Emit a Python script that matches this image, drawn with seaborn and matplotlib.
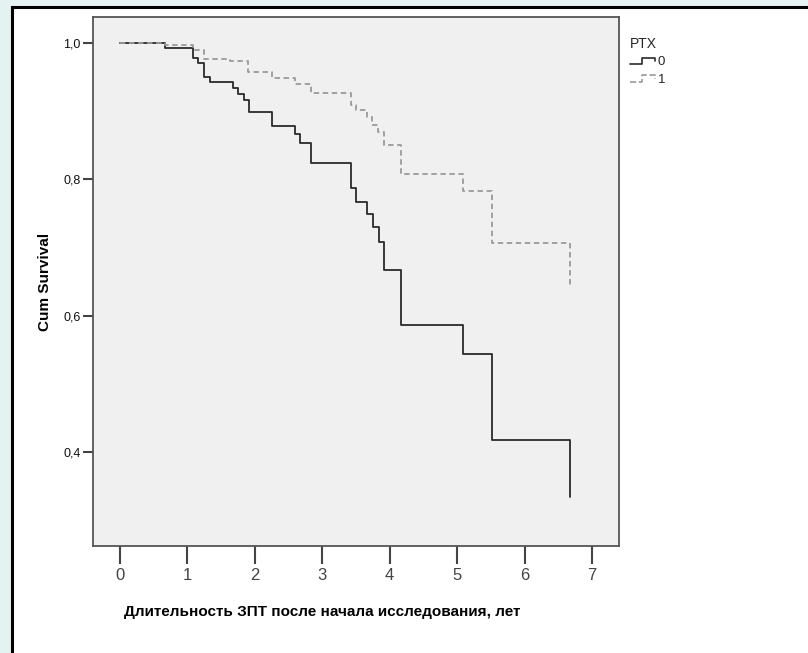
"""
Kaplan-Meier curves by PTX group, SPSS-style look.
"""
import numpy as np
import pandas as pd
import matplotlib
matplotlib.use("Agg")
import matplotlib.pyplot as plt
from matplotlib.lines import Line2D
from matplotlib.patches import Rectangle
from matplotlib.legend_handler import HandlerBase
import seaborn as sns

# survival steps (time in years, survival after the event)
time_0 = [0, 0.67, 1.08, 1.16, 1.25, 1.33, 1.67, 1.75, 1.84, 1.92, 2.26, 2.59, 2.67,
          2.83, 3.42, 3.50, 3.66, 3.75, 3.84, 3.92, 4.17, 5.09, 5.51, 6.68]
surv_0 = [1.0, 0.992, 0.978, 0.971, 0.950, 0.942, 0.934, 0.925, 0.916, 0.899, 0.878, 0.866,
          0.853, 0.824, 0.787, 0.767, 0.749, 0.730, 0.708, 0.667, 0.586, 0.544, 0.418, 0.334]
time_1 = [0, 0.67, 1.08, 1.25, 1.63, 1.90, 2.26, 2.59, 2.83, 3.42, 3.50, 3.66, 3.74,
          3.83, 3.91, 4.17, 5.09, 5.51, 6.68]
surv_1 = [1.0, 0.997, 0.990, 0.976, 0.973, 0.958, 0.949, 0.939, 0.926, 0.909, 0.901,
          0.891, 0.880, 0.870, 0.850, 0.807, 0.783, 0.706, 0.645]
groups = ["0", "1"]
x_ticks = [0, 1, 2, 3, 4, 5, 6, 7]
y_ticks = [0.4, 0.6, 0.8, 1.0]
y_tick_labels = ["0,4", "0,6", "0,8", "1,0"]

df = pd.concat([
    pd.DataFrame({"time": time_0, "surv": surv_0, "PTX": groups[0]}),
    pd.DataFrame({"time": time_1, "surv": surv_1, "PTX": groups[1]}),
])

sns.set_style("white")
plt.rcParams["font.family"] = ["Liberation Sans", "DejaVu Sans"]

W, H = 808, 653
fig = plt.figure(figsize=(W / 100, H / 100), dpi=100)
fig.patch.set_facecolor("#e4f2f2")
# white panel with a black frame, like the screenshot
frame = Rectangle((12 / W, -0.05), 1.0, 1 - 7 / H + 0.05, transform=fig.transFigure,
                  facecolor="white", edgecolor="black", lw=2.2, zorder=-10)
fig.patches.append(frame)

ax = fig.add_axes([93 / W, 1 - 546 / H, (619 - 93) / W, (546 - 17) / H])
ax.set_zorder(1)
ax.set_facecolor("#f0f0f0")

colors = {"0": "#2a2a2a", "1": "#9a9a9a"}
styles = {"0": "-", "1": (0, (3, 2))}
for g in groups:
    sub = df[df["PTX"] == g]
    sns.lineplot(data=sub, x="time", y="surv", ax=ax, color=colors[g], estimator=None,
                 drawstyle="steps-post", linestyle=styles[g], lw=1.3, legend=False)

ax.set_xlim(-0.4, 7.4)
ax.set_ylim(0.262, 1.038)
ax.set_xticks(x_ticks)
ax.set_xticklabels([str(v) for v in x_ticks], fontsize=12, color="#444444")
ax.set_yticks(y_ticks)
ax.set_yticklabels(y_tick_labels, fontsize=9, color="#111111")
ax.tick_params(axis="x", direction="out", length=13, width=1.5, color="#444444", pad=3, bottom=True)
ax.tick_params(axis="y", direction="out", length=7, width=1.5, color="#444444", pad=2, left=True)
for s in ax.spines.values():
    s.set_color("#555555")
    s.set_linewidth(1.3)

ax.set_xlabel("Длительность ЗПТ после начала исследования, лет", fontsize=11,
              fontweight="bold", color="black", labelpad=16)
ax.xaxis.label.set_x(0.435)
ax.set_ylabel("Cum Survival", fontsize=11, fontweight="bold", color="black", labelpad=8)


class StepHandler(HandlerBase):
    def create_artists(self, legend, orig_handle, xdescent, ydescent, width, height, fontsize, trans):
        xs = np.array([0, 0.45, 0.45, 0.95, 0.95]) * width - xdescent
        ys = np.array([0.15, 0.15, 0.85, 0.85, 0.45]) * height - ydescent
        line = Line2D(xs, ys, color=orig_handle.get_color(), linestyle=orig_handle.get_linestyle(),
                      lw=1.2)
        line.set_transform(trans)
        return [line]


handles = [Line2D([], [], color=colors[g], linestyle=styles[g]) for g in groups]
leg = fig.legend(handles, groups, title="PTX", loc="upper left",
                 bbox_to_anchor=(618 / W, 1 - 25 / H), frameon=False, fontsize=9.5,
                 title_fontsize=10, handlelength=2.0, handletextpad=0.1, labelspacing=0.4,
                 handler_map={Line2D: StepHandler()})
leg._legend_box.align = "left"

fig.savefig("out.png", dpi=100, facecolor=fig.get_facecolor())
